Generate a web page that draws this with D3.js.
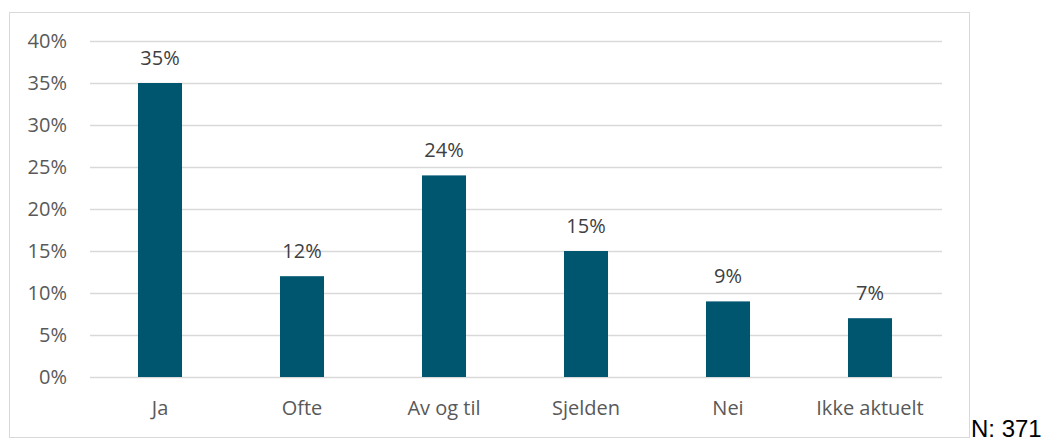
<!DOCTYPE html>
<html><head><meta charset="utf-8">
<script src="https://cdn.jsdelivr.net/npm/d3@7"></script>
<style>body{margin:0;background:#fff}svg{display:block}</style>
</head><body>
<script>
const categories = ["Ja","Ofte","Av og til","Sjelden","Nei","Ikke aktuelt"];
const values = [35,12,24,15,9,7];
const tickValues = [0,5,10,15,20,25,30,35,40];
const noteText = "N: 371";

const W = 1058, H = 442;
const svg = d3.select("body").append("svg").attr("width", W).attr("height", H);
const font = "'Open Sans', sans-serif";
const fs = "20px";

svg.append("rect").attr("x",9.5).attr("y",12.5).attr("width",960).attr("height",425)
  .attr("fill","#fff").attr("stroke","#d9d9d9").attr("stroke-width",1);

const x = d3.scaleBand().domain(categories).range([89,941]).paddingInner(0.69).paddingOuter(0.345);
const y = d3.scaleLinear().domain([0,40]).range([377,41]);

const yAxis = d3.axisLeft(y).tickValues(tickValues).tickFormat(d=>d+"%").tickSize(-(941-89)).tickPadding(23);
const gy = svg.append("g").attr("transform","translate(90,0)").call(yAxis);
gy.select(".domain").remove();
gy.selectAll(".tick line").attr("stroke","#d9d9d9").attr("stroke-width",1.5);
gy.selectAll(".tick text").attr("fill","#595959").attr("font-family",font).attr("font-size",fs);

svg.selectAll(".bar").data(values).enter().append("rect")
  .attr("x",(d,i)=>x(categories[i])).attr("width",x.bandwidth())
  .attr("y",d=>y(d)).attr("height",d=>y(0)-y(d)).attr("fill","#00556f");

svg.selectAll(".lbl").data(values).enter().append("text")
  .attr("x",(d,i)=>x(categories[i])+x.bandwidth()/2).attr("y",d=>y(d)-18.5)
  .attr("text-anchor","middle").attr("fill","#404040").attr("font-family",font).attr("font-size",fs)
  .text(d=>d+"%");

const xAxis = d3.axisBottom(x).tickSize(0).tickPadding(24);
const gx = svg.append("g").attr("transform","translate(0,377)").call(xAxis);
gx.select(".domain").remove();
gx.selectAll(".tick text").attr("fill","#595959").attr("font-family",font).attr("font-size",fs);

svg.append("text").attr("x",971).attr("y",437).attr("font-family","'Liberation Sans', Arial, sans-serif")
  .attr("font-size","24px").attr("fill","#000").text(noteText);
</script>
</body></html>
